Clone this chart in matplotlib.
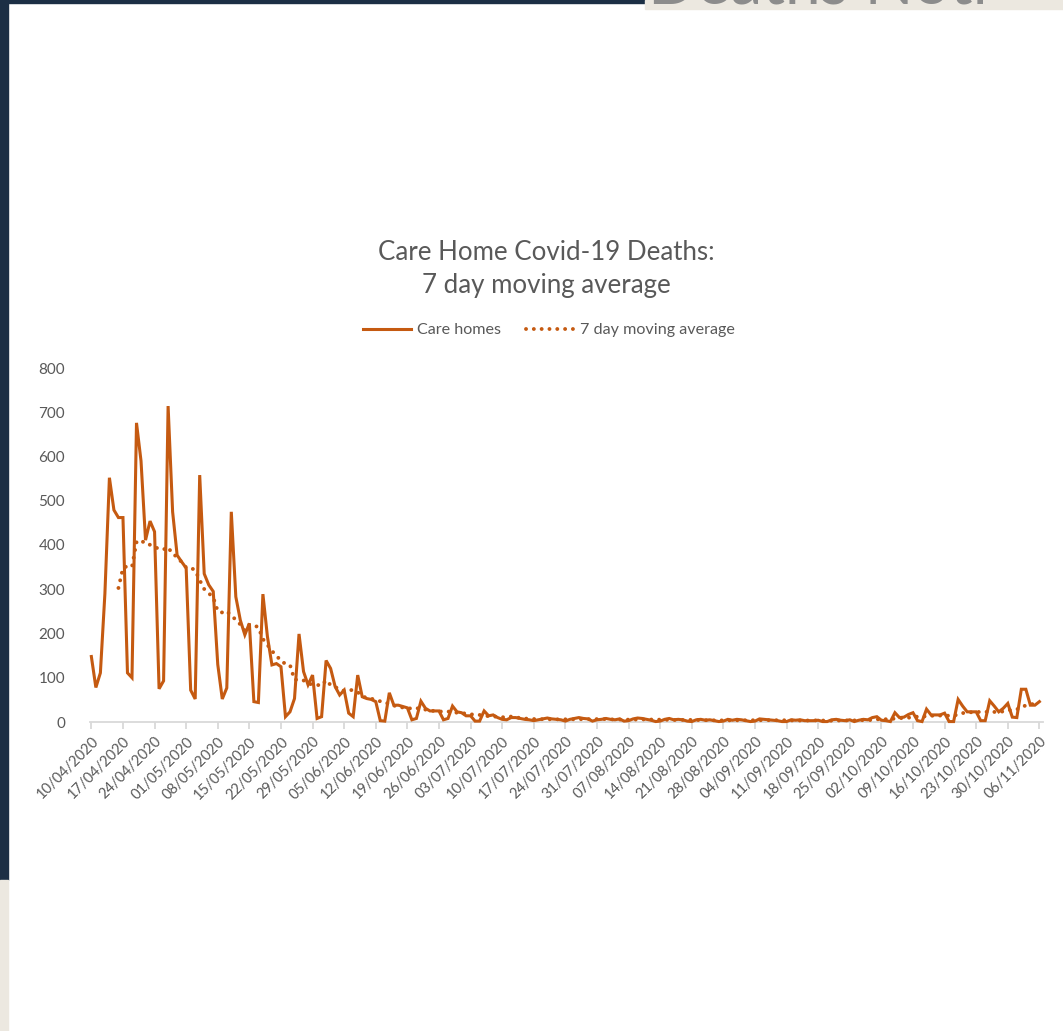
import numpy as np
import pandas as pd
import matplotlib
matplotlib.use("Agg")
import matplotlib.pyplot as plt
from matplotlib.lines import Line2D
from matplotlib.patches import Rectangle

# ---------------- data ----------------
start_date = "2020-04-10"
care_homes = [
    148, 78, 111, 290, 552, 479, 462, 462, 111, 100,
    676, 590, 411, 454, 430, 75, 93, 714, 475, 377,
    362, 348, 72, 52, 558, 335, 310, 295, 130, 52,
    77, 475, 283, 230, 197, 223, 46, 44, 289, 193,
    129, 132, 125, 12, 23, 53, 199, 114, 84, 106,
    8, 12, 139, 121, 80, 61, 72, 20, 12, 106,
    57, 53, 51, 46, 3, 2, 66, 38, 38, 35,
    32, 5, 8, 47, 31, 25, 25, 25, 5, 8,
    36, 23, 21, 14, 14, 2, 2, 25, 14, 16,
    10, 6, 5, 10, 10, 8, 6, 5, 3, 5,
    7, 9, 7, 6, 5, 2, 6, 8, 10, 8,
    7, 2, 5, 6, 8, 6, 5, 7, 2, 3,
    7, 9, 8, 6, 4, 1, 2, 6, 8, 5,
    6, 5, 2, 1, 5, 6, 4, 5, 3, 1,
    2, 6, 4, 6, 5, 3, 1, 2, 7, 6,
    5, 4, 3, 1, 1, 5, 4, 5, 3, 3,
    3, 4, 1, 1, 5, 6, 4, 3, 5, 1,
    4, 6, 5, 10, 12, 4, 3, 1, 21, 10,
    11, 17, 21, 3, 1, 29, 16, 16, 16, 20,
    1, 1, 51, 36, 23, 23, 23, 3, 3, 48,
    36, 23, 31, 42, 11, 10, 74, 74, 38, 38,
    46,
]
window = 7
yticks = [0, 100, 200, 300, 400, 500, 600, 700, 800]
title_lines = ["Care Home Covid-19 Deaths:", "7 day moving average"]
series_labels = ["Care homes", "7 day moving average"]

dates = pd.date_range(start_date, periods=len(care_homes), freq="D")
tick_idx = list(range(0, len(care_homes), 7))
tick_labels = [dates[i].strftime("%d/%m/%Y") for i in tick_idx]
moving_avg = pd.Series(care_homes).rolling(window).mean()

# ---------------- style ----------------
W, H = 1063, 1031
ORANGE = "#c55a11"
GREY = "#595959"
plt.rcParams["font.family"] = ["Lato", "DejaVu Sans"]

fig = plt.figure(figsize=(W / 100, H / 100), dpi=100)
fig.patch.set_facecolor("white")

# slide decorations
def px_rect(x0, y0, x1, y1, color):
    fig.patches.append(Rectangle((x0 / W, 1 - y1 / H), (x1 - x0) / W, (y1 - y0) / H,
                                 transform=fig.transFigure, color=color, zorder=0))

px_rect(0, 0, 645, 3, "#1c2f45")
px_rect(645, 0, W, 9, "#ece8e0")
px_rect(0, 0, 8, 880, "#1c2f45")
px_rect(0, 880, 8, H, "#ece8e0")
fig.text(648 / W, 1 - 3 / H, "Deaths Noti", fontsize=46, color="#8c8c8c",
         ha="left", va="baseline")

# axes
ax_left, ax_right = 90, 1043
ax_top, ax_bottom = 368, 722
ax = fig.add_axes([ax_left / W, 1 - ax_bottom / H, (ax_right - ax_left) / W, (ax_bottom - ax_top) / H])
x = np.arange(len(care_homes))
ax.plot(x, care_homes, color=ORANGE, lw=2.2, solid_joinstyle="miter", clip_on=False, zorder=3)
ax.plot(x, moving_avg, color=ORANGE, lw=2.8, linestyle=(0, (0.01, 2.0)),
        dash_capstyle="round", clip_on=False, zorder=4)

ax.set_xlim(-0.3, len(care_homes) - 1 + 0.8)
ax.set_ylim(0, 800)
for s in ["top", "right", "left"]:
    ax.spines[s].set_visible(False)
ax.spines["bottom"].set_color("#d9d9d9")
ax.spines["bottom"].set_linewidth(1.3)

ax.set_yticks(yticks)
ax.set_yticklabels([str(v) for v in yticks])
ax.tick_params(axis="y", length=0, pad=18, labelsize=11, labelcolor=GREY)

ax.set_xticks(tick_idx)
ax.set_xticklabels(tick_labels, rotation=45, ha="right", va="top", rotation_mode="anchor")
ax.tick_params(axis="x", length=5, width=1.3, color="#d9d9d9", direction="out",
               pad=4, labelsize=10.5, labelcolor=GREY)

# title
fig.text(546 / W, 1 - 252 / H, title_lines[0], fontsize=18.6, color=GREY, ha="center", va="center")
fig.text(546 / W, 1 - 286 / H, title_lines[1], fontsize=18.6, color=GREY, ha="center", va="center")

# legend
handles = [
    Line2D([], [], color=ORANGE, lw=2.2),
    Line2D([], [], color=ORANGE, lw=2.8, linestyle=(0, (0.01, 2.0)), dash_capstyle="round"),
]
fig.legend(handles, series_labels, loc="center", bbox_to_anchor=(549 / W, 1 - 330 / H),
           ncol=2, frameon=False, fontsize=11.6, labelcolor=GREY, handlelength=3.0,
           columnspacing=1.5, handletextpad=0.4)

fig.savefig("out.png", dpi=100, facecolor="white")
